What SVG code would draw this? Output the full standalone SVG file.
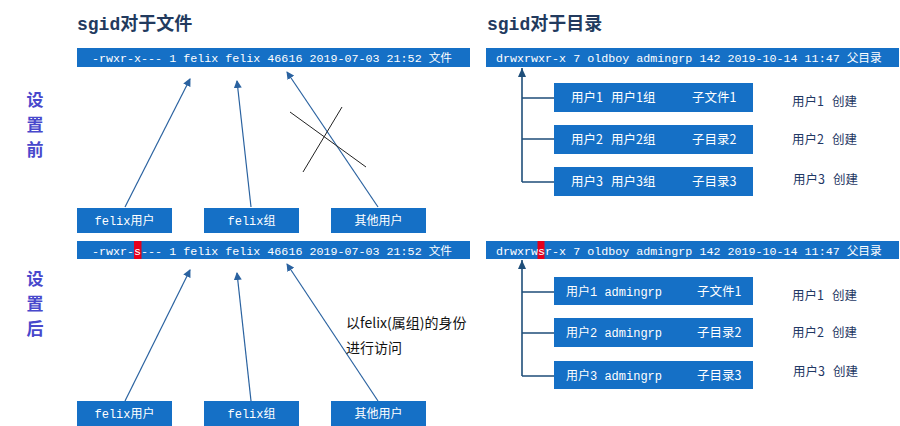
<svg xmlns="http://www.w3.org/2000/svg" width="900" height="426" viewBox="0 0 900 426">
<style>
.bg{fill:#ffffff}
.bar{fill:#1570c6}
.box{fill:#1570c6}
.mono{font-family:"Liberation Mono","Noto Sans CJK SC",monospace;font-size:11.7px;fill:#ffffff}
.boxt{font-family:"Liberation Mono","Noto Sans CJK SC",monospace;font-size:12px;fill:#ffffff}
.sans{font-family:"Noto Sans CJK SC",sans-serif;font-size:12.5px;fill:#ffffff}
.title{font-family:"Liberation Mono","Noto Sans CJK SC",monospace;font-size:18px;font-weight:bold;fill:#223a5e}
.side{font-family:"Noto Sans CJK SC",sans-serif;font-size:17px;font-weight:bold;fill:#4848cc}
.note{font-family:"Noto Sans CJK SC",sans-serif;font-size:12.5px;fill:#1f3864}
.desc{font-family:"Noto Sans CJK SC",sans-serif;font-size:14px;fill:#111111}
.arr{stroke:#2a62a0;stroke-width:1.2;fill:none;marker-end:url(#ah)}
.cross{stroke:#222222;stroke-width:1;fill:none}
.tree{stroke:#1f4e79;stroke-width:1.6;fill:none}
.red{fill:#e4001b}
</style>
<defs>
<marker id="ah" markerWidth="8" markerHeight="8" refX="7" refY="4" orient="auto" markerUnits="userSpaceOnUse">
<path d="M0,0 L8,4 L0,8 Z" fill="#2a62a0"/>
</marker>
<marker id="ah2" markerWidth="10" markerHeight="8" refX="9" refY="4" orient="auto" markerUnits="userSpaceOnUse">
<path d="M0,0 L9,4 L0,8 Z" fill="#1f4e79"/>
</marker>
</defs>
<rect class="bg" x="0" y="0" width="900" height="426"/>

<!-- titles -->
<text class="title" x="77" y="30">sgid对于文件</text>
<text class="title" x="487" y="30">sgid对于目录</text>

<!-- side labels -->
<g id="label-before">
<text class="side" x="35" y="106" text-anchor="middle">设</text>
<text class="side" x="35" y="131" text-anchor="middle">置</text>
<text class="side" x="35" y="156" text-anchor="middle">前</text>
</g>
<g id="label-after">
<text class="side" x="35" y="285" text-anchor="middle">设</text>
<text class="side" x="35" y="310" text-anchor="middle">置</text>
<text class="side" x="35" y="335" text-anchor="middle">后</text>
</g>

<!-- connectors -->
<g id="connectors">
<line class="arr" x1="125" y1="207" x2="190" y2="79"/>
<line class="arr" x1="251" y1="207" x2="237" y2="81"/>
<line class="arr" x1="378" y1="207" x2="287" y2="72"/>
<line class="cross" x1="290" y1="112" x2="366" y2="167"/>
<line class="cross" x1="342" y1="107" x2="303" y2="172"/>

<line class="arr" x1="125" y1="401" x2="190" y2="270"/>
<line class="arr" x1="251" y1="401" x2="237" y2="273"/>
<line class="arr" x1="378" y1="401" x2="287" y2="264"/>

<path class="tree" d="M522,182 L522,68" marker-end="url(#ah2)"/>
<path class="tree" d="M522,98 H554 M522,139 H554 M522,182 H554"/>
<path class="tree" d="M522,376 L522,260" marker-end="url(#ah2)"/>
<path class="tree" d="M522,292 H554 M522,333 H554 M522,376 H554"/>
</g>

<!-- top left bar -->
<g id="file-before">
<rect class="bar" x="77" y="48" width="393" height="19"/>
<text class="mono" x="92" y="61.5">-rwxr-x--- 1 felix felix 46616 2019-07-03 21:52 文件</text>
</g>
<g id="file-after">
<rect class="bar" x="77" y="241" width="393" height="18"/>
<rect class="red" x="134" y="241" width="7.5" height="18"/>
<text class="mono" x="92" y="254.5">-rwxr-s--- 1 felix felix 46616 2019-07-03 21:52 文件</text>
</g>

<g id="dir-before">
<rect class="bar" x="486" y="48" width="413" height="19"/>
<text class="mono" x="496" y="61.5">drwxrwxr-x 7 oldboy admingrp 142 2019-10-14 11:47 父目录</text>
</g>
<g id="dir-after">
<rect class="bar" x="486" y="241" width="413" height="18"/>
<rect class="red" x="537.5" y="241" width="7" height="18"/>
<text class="mono" x="496" y="254.5">drwxrwsr-x 7 oldboy admingrp 142 2019-10-14 11:47 父目录</text>
</g>

<!-- boxes top -->
<g id="u1"><rect class="box" x="77" y="208" width="95" height="25"/><text class="boxt" x="124.5" y="225" text-anchor="middle">felix用户</text></g>
<g id="g1"><rect class="box" x="204" y="208" width="95" height="25"/><text class="boxt" x="251.5" y="225" text-anchor="middle">felix组</text></g>
<g id="o1"><rect class="box" x="331" y="208" width="95" height="25"/><text class="boxt" x="378.5" y="225" text-anchor="middle">其他用户</text></g>

<g id="u2"><rect class="box" x="77" y="401" width="95" height="25"/><text class="boxt" x="124.5" y="418" text-anchor="middle">felix用户</text></g>
<g id="g2"><rect class="box" x="204" y="401" width="95" height="25"/><text class="boxt" x="251.5" y="418" text-anchor="middle">felix组</text></g>
<g id="o2"><rect class="box" x="331" y="401" width="95" height="25"/><text class="boxt" x="378.5" y="418" text-anchor="middle">其他用户</text></g>

<g id="desc">
<text class="desc" x="346" y="328">以felix(属组)的身份</text>
<text class="desc" x="346" y="353">进行访问</text>
</g>

<!-- right boxes top -->
<g id="c1"><rect class="box" x="554" y="83" width="199" height="29"/><text class="sans" x="571" y="102">用户1<tspan x="611">用户1组</tspan></text><text class="sans" x="692" y="102">子文件1</text></g>
<g id="c2"><rect class="box" x="554" y="125" width="199" height="29"/><text class="sans" x="571" y="144">用户2<tspan x="611">用户2组</tspan></text><text class="sans" x="692" y="144">子目录2</text></g>
<g id="c3"><rect class="box" x="554" y="167" width="199" height="29"/><text class="sans" x="571" y="186">用户3<tspan x="611">用户3组</tspan></text><text class="sans" x="692" y="186">子目录3</text></g>

<g id="n1"><text class="note" x="792" y="106">用户1<tspan x="832">创建</tspan></text></g>
<g id="n2"><text class="note" x="792" y="144">用户2<tspan x="832">创建</tspan></text></g>
<g id="n3"><text class="note" x="793" y="184">用户3<tspan x="833">创建</tspan></text></g>

<!-- right boxes bottom -->
<g id="d1"><rect class="box" x="554" y="277" width="199" height="28"/><text class="boxt" x="566" y="296">用户1 admingrp</text><text class="sans" x="697" y="296">子文件1</text></g>
<g id="d2"><rect class="box" x="554" y="318" width="199" height="29"/><text class="boxt" x="566" y="337">用户2 admingrp</text><text class="sans" x="697" y="337">子目录2</text></g>
<g id="d3"><rect class="box" x="554" y="361" width="199" height="28"/><text class="boxt" x="566" y="380">用户3 admingrp</text><text class="sans" x="697" y="380">子目录3</text></g>

<g id="m1"><text class="note" x="792" y="300">用户1<tspan x="832">创建</tspan></text></g>
<g id="m2"><text class="note" x="792" y="337">用户2<tspan x="832">创建</tspan></text></g>
<g id="m3"><text class="note" x="793" y="376">用户3<tspan x="833">创建</tspan></text></g>
</svg>
